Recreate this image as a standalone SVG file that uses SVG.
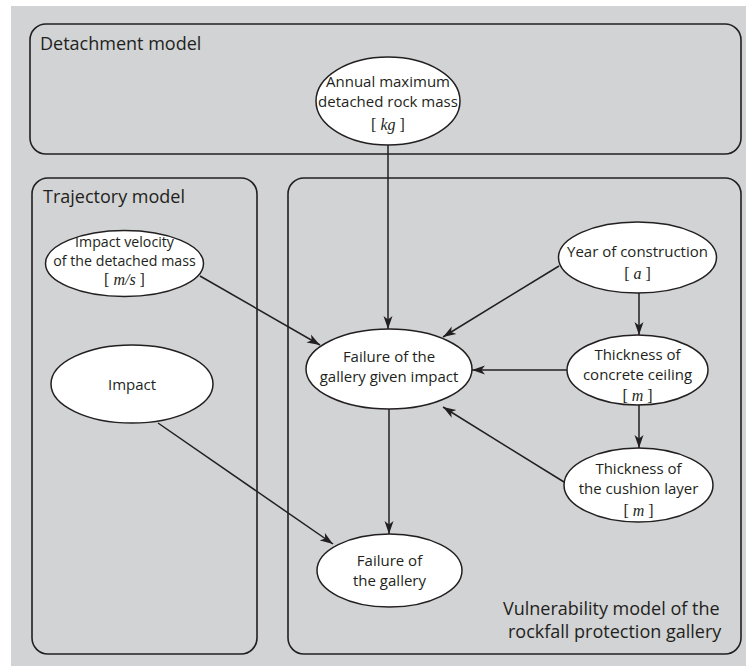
<svg xmlns="http://www.w3.org/2000/svg" width="746" height="666" viewBox="0 0 746 666">
  <defs>
    <style>
      .panel { fill: none; stroke: #231f20; stroke-width: 1.6; }
      .node ellipse { fill: #ffffff; stroke: #231f20; stroke-width: 1.5; }
      .lbl { font-family: "Open Sans", "Liberation Sans", sans-serif; fill: #231f20; }
      .title { font-size: 18px; }
      .txt { font-size: 15px; text-anchor: middle; }
      .small { font-size: 14.2px; }
      .unit { font-family: "Liberation Serif", "DejaVu Serif", serif; font-size: 16px; text-anchor: middle; fill: #231f20; }
      .unit tspan { font-style: italic; }
      .edge { fill: none; stroke: #231f20; stroke-width: 1.5; marker-end: url(#arrow); }
    </style>
    <marker id="arrow" markerUnits="userSpaceOnUse" markerWidth="14" markerHeight="10" refX="13" refY="5" orient="auto">
      <path d="M0,0.5 L13,5 L0,9.5 L3.5,5 Z" fill="#231f20"/>
    </marker>
  </defs>

  <!-- page background -->
  <rect x="11" y="6" width="735" height="660" fill="#d1d3d4"/>

  <!-- model panels -->
  <g id="detachment-model">
    <rect class="panel" x="30" y="24" width="711" height="130" rx="16" ry="16"/>
    <text class="lbl title" x="40" y="50">Detachment model</text>
  </g>
  <g id="trajectory-model">
    <rect class="panel" x="32" y="178" width="225" height="476" rx="16" ry="16"/>
    <text class="lbl title" x="43" y="203">Trajectory model</text>
  </g>
  <g id="vulnerability-model">
    <rect class="panel" x="288" y="178" width="453" height="476" rx="16" ry="16"/>
    <text class="lbl title" x="503" y="615">Vulnerability model of the</text>
    <text class="lbl title" x="508" y="638">rockfall protection gallery</text>
  </g>

  <!-- connectors -->
  <g id="connectors">
    <line class="edge" x1="388" y1="145" x2="388" y2="329"/>
    <line class="edge" x1="200" y1="276" x2="320" y2="345"/>
    <line class="edge" x1="559" y1="266" x2="443" y2="337"/>
    <line class="edge" x1="639" y1="293" x2="639" y2="335"/>
    <line class="edge" x1="567" y1="370" x2="472" y2="370"/>
    <line class="edge" x1="639" y1="405" x2="639" y2="448"/>
    <line class="edge" x1="564" y1="482" x2="443" y2="407"/>
    <line class="edge" x1="389" y1="409" x2="389" y2="534"/>
    <line class="edge" x1="158" y1="423" x2="333" y2="544"/>
  </g>

  <!-- nodes -->
  <g id="annual-max-mass" class="node">
    <ellipse cx="388" cy="101" rx="72" ry="44"/>
    <text class="lbl txt" x="388" y="87">Annual maximum</text>
    <text class="lbl txt" x="388" y="107">detached rock mass</text>
    <text class="unit" x="388" y="130">[ <tspan>kg</tspan> ]</text>
  </g>
  <g id="impact-velocity" class="node">
    <ellipse cx="124.5" cy="263.5" rx="79" ry="33"/>
    <text class="lbl txt small" x="124.5" y="247">Impact velocity</text>
    <text class="lbl txt small" x="124.5" y="266">of the detached mass</text>
    <text class="unit" x="124.5" y="285">[ <tspan>m/s</tspan> ]</text>
  </g>
  <g id="impact" class="node">
    <ellipse cx="132" cy="384" rx="81" ry="39"/>
    <text class="lbl txt" x="132" y="390">Impact</text>
  </g>
  <g id="failure-given-impact" class="node">
    <ellipse cx="389" cy="369" rx="83" ry="40"/>
    <text class="lbl txt" x="389" y="362">Failure of the</text>
    <text class="lbl txt" x="389" y="382">gallery given impact</text>
  </g>
  <g id="year-of-construction" class="node">
    <ellipse cx="637.5" cy="257.5" rx="79" ry="35.5"/>
    <text class="lbl txt" x="637.5" y="257">Year of construction</text>
    <text class="unit" x="637.5" y="279">[ <tspan>a</tspan> ]</text>
  </g>
  <g id="concrete-ceiling" class="node">
    <ellipse cx="637.5" cy="370" rx="70.5" ry="35"/>
    <text class="lbl txt" x="637.5" y="360">Thickness of</text>
    <text class="lbl txt" x="637.5" y="380">concrete ceiling</text>
    <text class="unit" x="637.5" y="401">[ <tspan>m</tspan> ]</text>
  </g>
  <g id="cushion-layer" class="node">
    <ellipse cx="638.5" cy="485" rx="74.5" ry="37"/>
    <text class="lbl txt" x="638.5" y="474">Thickness of</text>
    <text class="lbl txt" x="638.5" y="494">the cushion layer</text>
    <text class="unit" x="638.5" y="516">[ <tspan>m</tspan> ]</text>
  </g>
  <g id="gallery-failure" class="node">
    <ellipse cx="389.5" cy="570.5" rx="72.5" ry="36.5"/>
    <text class="lbl txt" x="389.5" y="566">Failure of</text>
    <text class="lbl txt" x="389.5" y="586">the gallery</text>
  </g>
</svg>
